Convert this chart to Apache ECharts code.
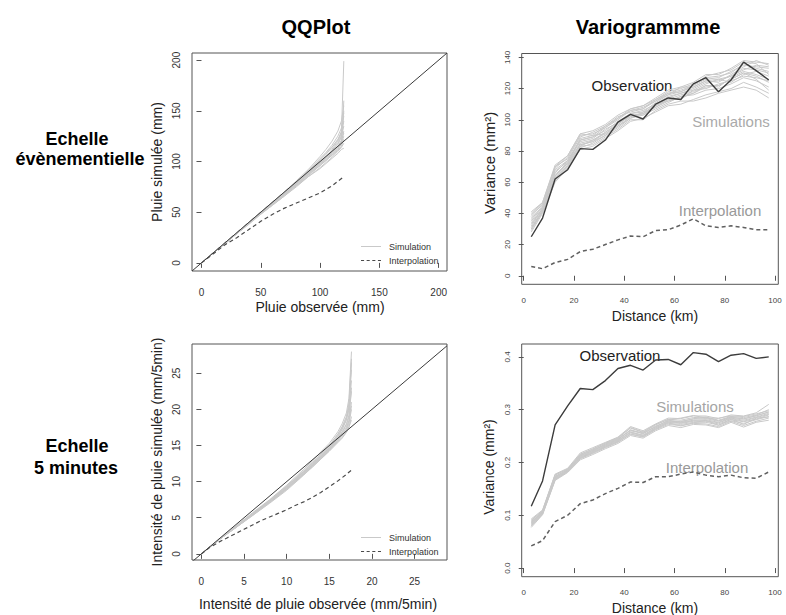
<!DOCTYPE html>
<html><head><meta charset="utf-8">
<script src="https://cdn.jsdelivr.net/npm/echarts@6/dist/echarts.min.js"></script>
<style>html,body{margin:0;padding:0;background:#fff}#c{width:786px;height:615px}</style>
</head><body><div id="c"></div>
<script>
// ---------------- DATA ----------------
// QQ plot, event scale (observed quantiles on x)
const qq1X = [0,10,20,30,40,50,60,70,80,90,100,105,110,115,118,120];
const qq1Sims = [
  [0,10,20,30,40,50,60,70,80,91,103,109,116,125,133,148],
  [0,10,20,29,39,49,58,68,78,88,98,103,108,114,120,130],
  [0,10,20,30,40,50,59,69,79,89,100,105,111,118,125,140],
  [0,10,19,29,39,48,57,66,75,85,94,99,104,110,114,118],
  [0,10,20,30,40,50,60,70,81,92,105,112,120,130,140,155],
  [0,10,20,29,39,49,58,67,76,86,96,101,106,111,115,122],
  [0,10,20,30,40,50,59,69,79,90,101,107,114,121,130,199],
  [0,10,19,29,38,48,57,66,76,85,93,98,103,108,112,113],
  [0,10,20,30,40,50,60,69,79,89,99,104,110,117,124,135],
  [0,10,20,30,40,50,60,70,80,90,102,108,114,122,128,145],
  [0,10,19,29,39,49,58,67,77,87,97,102,107,113,118,125],
  [0,10,20,30,40,49,59,68,78,88,99,104,109,115,121,128],
  [0,10,20,29,39,49,59,68,77,87,96,101,106,112,117,160],
  [0,10,20,30,39,49,58,68,78,88,98,104,112,120,127,150]
];
const qq1InterpX = [0,5,10,20,30,40,50,60,70,80,90,100,110,120];
const qq1InterpY = [0,4.5,9,18,25,33,41,48,54,59,64,69,76,85];

// QQ plot, 5-minute scale
const qq2X = [0,2,4,6,8,10,12,13,14,15,16,16.5,17,17.3,17.6];
const qq2Sims = [
  [0,1.9,3.7,5.5,7.3,9.2,11.3,12.4,13.5,14.7,16.2,17.2,18.5,20,24],
  [0,1.9,3.6,5.3,7.0,8.8,10.9,12.0,13.1,14.2,15.4,16.0,16.8,17.5,19],
  [0,1.9,3.8,5.7,7.5,9.5,11.7,12.9,14.1,15.3,16.9,18.0,19.5,21.5,28],
  [0,1.9,3.7,5.4,7.2,9.0,11.1,12.2,13.3,14.5,15.8,16.6,17.5,18.5,21],
  [0,1.9,3.6,5.4,7.1,9.0,11.0,12.1,13.2,14.4,15.6,16.3,17.1,18.0,20],
  [0,1.9,3.8,5.6,7.4,9.4,11.5,12.7,13.8,15.0,16.5,17.5,18.8,20.5,25.5],
  [0,1.9,3.7,5.5,7.3,9.1,11.2,12.3,13.4,14.6,16.0,16.9,18.0,19.2,22.5],
  [0,1.9,3.6,5.3,7.1,8.9,11.0,12.0,13.1,14.3,15.5,16.1,16.9,17.6,18.5],
  [0,1.9,3.7,5.5,7.4,9.3,11.4,12.5,13.6,14.8,16.3,17.3,18.6,20.2,26.5],
  [0,1.9,3.7,5.4,7.2,9.1,11.2,12.3,13.4,14.6,15.9,16.8,17.8,19.0,23],
  [0,1.9,3.8,5.6,7.4,9.3,11.4,12.6,13.7,15.0,16.6,17.6,19.0,20.8,27],
  [0,1.9,3.6,5.4,7.2,9.0,11.1,12.2,13.2,14.4,15.7,16.5,17.3,18.3,20.5]
];
const qq2InterpX = [0,1,2,3,4,5,6,7,8,9,10,11,12,13,14,15,16,17,17.7];
const qq2InterpY = [0,0.9,1.6,2.2,2.8,3.4,4.0,4.6,5.1,5.6,6.1,6.7,7.2,7.8,8.5,9.3,10.1,11.0,11.7];

// Variograms (distance in km)
const vDist = [3,7.5,12.5,17.5,22.5,27.5,32.5,37.5,42.5,47.5,52.5,57.5,62.5,67.5,72.5,77.5,82.5,87.5,92.5,97.5];
const v1Obs = [25,37,62,68,81.5,81,87,98.5,103.5,100.5,110,114,113,123,127,118,125.5,137,131.5,125.5];
const v1Interp = [6,4.5,8.5,10.5,15.5,17,20,23,25.5,25,29,29.5,32.5,36.5,32,31,32,31,29.5,29.5];
const v1Sims = [
  [30,42,64,72,84,86,90,96,102,104,108,112,114,117,121,122,126,130,128,124],
  [35,44,66,74,87,89,93,99,104,106,110,115,117,120,124,125,128,133,132,130],
  [28,40,60,69,81,83,88,93,99,101,105,109,110,113,116,118,120,124,121,117],
  [38,46,69,76,90,91,95,101,106,108,112,117,119,122,126,127,131,135,134,133],
  [32,43,63,71,85,87,92,97,103,103,109,113,116,118,122,121,127,131,129,126],
  [41,47,71,77,91,93,97,103,107,109,114,119,121,124,129,129,133,138,137,136],
  [29,41,62,70,83,84,89,94,100,100,106,110,112,112,114,117,119,121,119,114],
  [36,45,67,73,86,88,94,98,104,105,111,116,118,121,125,124,129,134,138,135],
  [33,43,65,72,88,90,91,96,101,105,108,113,113,119,123,126,124,129,131,128],
  [39,46,70,75,89,92,96,102,105,107,113,118,120,123,127,128,130,136,133,131],
  [31,42,61,70,82,85,90,95,101,103,107,111,115,116,119,120,123,127,125,121],
  [37,44,68,74,87,89,95,100,106,107,112,116,121,121,125,126,128,132,135,134],
  [34,43,64,73,84,86,92,98,102,104,109,114,117,119,120,123,125,128,127,125],
  [40,47,70,77,91,90,96,101,107,109,113,117,118,122,128,130,132,137,136,129],
  [30,41,63,71,83,87,91,97,103,104,110,112,115,117,122,122,126,130,126,119]
];
const v2Obs = [0.117,0.165,0.271,0.307,0.340,0.338,0.355,0.378,0.384,0.375,0.394,0.395,0.385,0.408,0.405,0.391,0.403,0.406,0.397,0.400];
const v2Interp = [0.042,0.052,0.088,0.100,0.122,0.129,0.141,0.151,0.163,0.162,0.173,0.173,0.178,0.182,0.176,0.173,0.176,0.171,0.170,0.182];
const v2Sims = [
  [0.080,0.103,0.168,0.182,0.207,0.217,0.228,0.238,0.254,0.248,0.262,0.272,0.270,0.274,0.273,0.268,0.278,0.270,0.278,0.284],
  [0.088,0.107,0.173,0.186,0.212,0.223,0.233,0.243,0.262,0.254,0.268,0.279,0.276,0.280,0.281,0.276,0.284,0.280,0.286,0.293],
  [0.093,0.110,0.178,0.189,0.218,0.228,0.238,0.248,0.268,0.260,0.273,0.284,0.283,0.288,0.288,0.283,0.290,0.288,0.294,0.310],
  [0.077,0.101,0.166,0.181,0.205,0.215,0.226,0.236,0.251,0.246,0.260,0.270,0.266,0.272,0.271,0.266,0.276,0.267,0.276,0.280],
  [0.085,0.105,0.171,0.184,0.210,0.220,0.231,0.241,0.258,0.251,0.266,0.276,0.274,0.278,0.278,0.273,0.281,0.277,0.282,0.290],
  [0.090,0.109,0.176,0.188,0.215,0.226,0.236,0.246,0.265,0.257,0.271,0.282,0.280,0.285,0.286,0.280,0.287,0.285,0.290,0.300],
  [0.082,0.104,0.169,0.183,0.209,0.219,0.229,0.240,0.256,0.250,0.264,0.274,0.272,0.276,0.276,0.271,0.279,0.274,0.281,0.287],
  [0.086,0.106,0.174,0.186,0.213,0.224,0.234,0.244,0.260,0.255,0.269,0.278,0.278,0.282,0.283,0.278,0.285,0.283,0.288,0.296],
  [0.079,0.102,0.167,0.183,0.208,0.218,0.230,0.239,0.253,0.249,0.263,0.275,0.269,0.275,0.280,0.270,0.282,0.272,0.284,0.286],
  [0.091,0.108,0.177,0.187,0.216,0.225,0.237,0.247,0.266,0.258,0.272,0.281,0.284,0.289,0.284,0.284,0.288,0.287,0.292,0.298],
  [0.084,0.104,0.170,0.185,0.211,0.221,0.232,0.242,0.257,0.252,0.265,0.277,0.275,0.279,0.279,0.275,0.283,0.278,0.285,0.291],
  [0.087,0.106,0.172,0.185,0.214,0.222,0.235,0.245,0.261,0.256,0.267,0.280,0.277,0.283,0.285,0.279,0.286,0.282,0.289,0.295]
];

// Axis tick definitions
const qq1Ticks = {x: [0, 200, 50], y: [0, 200, 50], ydec: 0};
const qq2Ticks = {x: [0, 25, 5], y: [0, 25, 5], ydec: 0};
const v1Ticks = {x: [0, 100, 20], y: [0, 140, 20], ydec: 0};
const v2Ticks = {x: [0, 100, 20], y: [0, 0.4, 0.1], ydec: 1};

// Text
const colTitles = ['QQPlot', 'Variogrammme'];
const rowTitles = [['Echelle','évènementielle'], ['Echelle','5 minutes']];
const legendNames = ['Simulation', 'Interpolation'];

// ---------------- LAYOUT / STYLE ----------------
const FONT = "'Liberation Sans', Arial, Helvetica, sans-serif";
const SIM_COL = '#c9c9c9', OBS_COL = '#3c3c3c', AX_COL = '#555';
const ICON_SOLID = 'path://M0,0H20V1H0Z';
const ICON_DASH = 'path://M0,0H3V1H0Z M5.5,0H8.5V1H5.5Z M11,0H14V1H11Z M16.5,0H19.5V1H16.5Z';

const grids = [], xAxes = [], yAxes = [], series = [], graphics = [], legends = [];

function text(str, x, y, size, opts) {
  opts = opts || {};
  graphics.push({
    type: 'text', x: x, y: y, rotation: opts.rot || 0, silent: true,
    style: { text: str, fill: opts.color || '#111', font: (opts.bold ? 'bold ' : '') + size + 'px ' + FONT,
             textAlign: 'center', textVerticalAlign: 'middle' }
  });
}

// A panel = a boxed plot region (data grid) + a tick grid aligned with the data scale.
function addPanel(box, xr, yr, ticks, lab) {
  const gi = grids.length;
  grids.push({left: box.l, top: box.t, width: box.r - box.l, height: box.b - box.t,
              show: true, borderColor: AX_COL, borderWidth: 1, backgroundColor: 'transparent'});
  xAxes.push({gridIndex: gi, type: 'value', min: xr[0], max: xr[1], show: false});
  yAxes.push({gridIndex: gi, type: 'value', min: yr[0], max: yr[1], show: false});
  const kx = (box.r - box.l) / (xr[1] - xr[0]);
  const ky = (box.b - box.t) / (yr[1] - yr[0]);
  const tg = {left: box.l + (ticks.x[0] - xr[0]) * kx, width: (ticks.x[1] - ticks.x[0]) * kx,
              top: box.t + (yr[1] - ticks.y[1]) * ky, height: (ticks.y[1] - ticks.y[0]) * ky};
  grids.push(tg);
  const ls = {color: lab.color, fontSize: lab.size, fontFamily: FONT};
  xAxes.push({gridIndex: gi + 1, type: 'value', min: ticks.x[0], max: ticks.x[1], interval: ticks.x[2],
    position: 'bottom', offset: box.b - (tg.top + tg.height),
    axisLine: {show: false}, axisTick: {show: true, length: 5, lineStyle: {color: AX_COL}},
    axisLabel: Object.assign({margin: lab.xm}, ls), splitLine: {show: false}});
  yAxes.push({gridIndex: gi + 1, type: 'value', min: ticks.y[0], max: ticks.y[1], interval: ticks.y[2],
    position: 'left', offset: tg.left - box.l,
    axisLine: {show: false}, axisTick: {show: true, length: 5, lineStyle: {color: AX_COL}},
    axisLabel: Object.assign({margin: lab.ym, rotate: 90,
      formatter: function (v) { return v.toFixed(ticks.ydec); }}, ls), splitLine: {show: false}});
  return {xi: xAxes.length - 2, yi: yAxes.length - 2};
}

function line(ax, name, xs, ys, style, z) {
  series.push({type: 'line', name: name, xAxisIndex: ax.xi, yAxisIndex: ax.yi, symbol: 'none',
    data: xs.map(function (x, i) { return [x, ys[i]]; }),
    lineStyle: style, itemStyle: {color: style.color}, silent: true, z: z});
}

function addQQ(box, xr, yr, ticks, simX, sims, intX, intY, legendTop) {
  const ax = addPanel(box, xr, yr, ticks, {color: '#333', size: 10, xm: 16, ym: 11});
  sims.forEach(function (s) { line(ax, legendNames[0], simX, s, {color: SIM_COL, width: 1}, 2); });
  // identity line y = x spanning the plot region
  line(ax, 'identity', xr, xr, {color: '#3a3a3a', width: 1}, 3);
  line(ax, legendNames[1], intX, intY, {color: '#4a4a4a', width: 1.2, type: [4, 3]}, 4);
  legends.push({
    data: [{name: legendNames[0], icon: ICON_SOLID}, {name: legendNames[1], icon: ICON_DASH}],
    orient: 'vertical', left: box.r - 91, top: legendTop,
    itemWidth: 20, itemHeight: 1.2, itemGap: 5, selectedMode: false,
    textStyle: {fontSize: 9, color: '#333', fontFamily: FONT, padding: [0, 0, 0, 3]}});
}

function addVario(box, xr, yr, ticks, obs, interp, sims) {
  const ax = addPanel(box, xr, yr, ticks, {color: '#444', size: 8, xm: 12, ym: 10});
  sims.forEach(function (s) { line(ax, 'vsim', vDist, s, {color: SIM_COL, width: 1}, 2); });
  line(ax, 'vint', vDist, interp, {color: '#606060', width: 1.5, type: [4, 3]}, 3);
  line(ax, 'vobs', vDist, obs, {color: OBS_COL, width: 1.4}, 4);
}

// Panels
addQQ({l: 192, t: 53, r: 447, b: 271}, [-8, 207], [-8, 207], qq1Ticks,
      qq1X, qq1Sims, qq1InterpX, qq1InterpY, 237);
addQQ({l: 192, t: 344, r: 447, b: 560}, [-1.1, 28.8], [-0.85, 29.05], qq2Ticks,
      qq2X, qq2Sims, qq2InterpX, qq2InterpY, 528);
addVario({l: 521.7, t: 53.5, r: 778.3, b: 284.3}, [-0.8, 101.3], [-5.48, 142.5], v1Ticks,
         v1Obs, v1Interp, v1Sims);
addVario({l: 521.7, t: 344, r: 778.3, b: 576.7}, [-0.8, 101.3], [-0.0163, 0.4243], v2Ticks,
         v2Obs, v2Interp, v2Sims);

// Titles & labels
text(colTitles[0], 316, 27, 20, {bold: true, color: '#000'});
text(colTitles[1], 648, 27, 20, {bold: true, color: '#000'});
text(rowTitles[0][0], 77, 139, 18, {bold: true, color: '#000'});
text(rowTitles[0][1], 80, 159, 18, {bold: true, color: '#000'});
text(rowTitles[1][0], 77, 446, 18, {bold: true, color: '#000'});
text(rowTitles[1][1], 76, 468, 18, {bold: true, color: '#000'});

text('Pluie simulée (mm)', 157, 162, 14, {rot: Math.PI / 2, color: '#222'});
text('Pluie observée (mm)', 320, 307, 14, {color: '#222'});
text('Intensité de pluie simulée (mm/5min)', 157, 452, 14, {rot: Math.PI / 2, color: '#222'});
text('Intensité de pluie observée (mm/5min)', 318, 604, 14, {color: '#222'});
text('Variance (mm²)', 489, 163, 15, {rot: Math.PI / 2, color: '#222'});
text('Distance (km)', 655, 316, 14, {color: '#222'});
text('Variance (mm²)', 489, 467, 14, {rot: Math.PI / 2, color: '#222'});
text('Distance (km)', 655, 608, 14, {color: '#222'});

text('Observation', 632, 85, 15, {color: '#222'});
text('Simulations', 731, 121, 15, {color: '#aaa'});
text('Interpolation', 720, 210, 15, {color: '#999'});
text('Observation', 620, 355, 15, {color: '#222'});
text('Simulations', 695, 406, 15, {color: '#a5a5a5'});
text('Interpolation', 707, 467, 15, {color: '#999'});

const chart = echarts.init(document.getElementById('c'), null, {renderer: 'svg'});
chart.setOption({
  animation: false,
  backgroundColor: '#fff',
  textStyle: {fontFamily: FONT},
  grid: grids, xAxis: xAxes, yAxis: yAxes, series: series,
  legend: legends, graphic: graphics
});
</script></body></html>
